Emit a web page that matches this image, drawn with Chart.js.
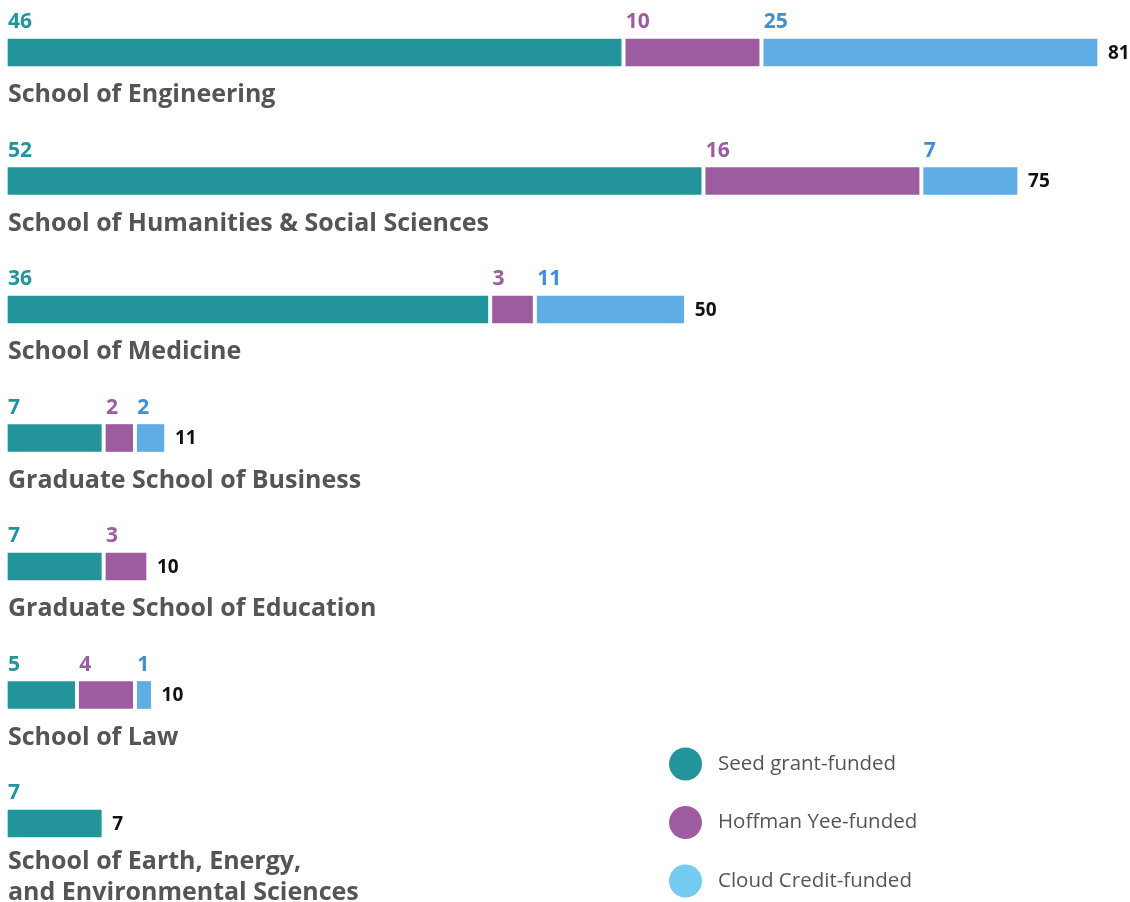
<!DOCTYPE html>
<html>
<head>
<meta charset="utf-8">
<script src="https://cdn.jsdelivr.net/npm/chart.js@4/dist/chart.umd.min.js"></script>
<style>
  html, body { margin: 0; padding: 0; background: #fff; }
  #wrap { width: 1130px; height: 902px; position: relative; }
</style>
</head>
<body>
<div id="wrap"><canvas id="projectsChart"></canvas></div>
<script>
var schools = [
  "School of Engineering",
  "School of Humanities & Social Sciences",
  "School of Medicine",
  "Graduate School of Business",
  "Graduate School of Education",
  "School of Law",
  ["School of Earth, Energy,", "and Environmental Sciences"]
];
var seedGrant = [46, 52, 36, 7, 7, 5, 7];
var hoffmanYee = [10, 16, 3, 2, 3, 4, 0];
var cloudCredit = [25, 7, 11, 2, 0, 1, 0];

var seriesNames = ["Seed grant-funded", "Hoffman Yee-funded", "Cloud Credit-funded"];
var barColors = ["#23959a", "#9d5ca0", "#60ace4"];
var labelColors = ["#23959a", "#9d5ca0", "#3f8fd1"];
var legendColors = ["#23959a", "#9d5ca0", "#74ccf0"];

var fontName = "'Open Sans', 'Noto Sans', sans-serif";
var series = [seedGrant, hoffmanYee, cloudCredit];
var gap = 0.35; // white space between segments, in value units (~4-5px)

// segments are drawn as floating bars so the gaps add to the length
function segments(d) {
  return series[d].map(function (v, i) {
    if (!v) return null;
    var start = 0;
    for (var k = 0; k < d; k++) {
      if (series[k][i] > 0) start += series[k][i] + gap;
    }
    return [start, start + v];
  });
}

// value labels, totals, school names and legend
var labelsPlugin = {
  id: "labelsPlugin",
  afterDatasetsDraw: function (chart) {
    var c = chart.ctx;
    c.save();
    schools.forEach(function (name, i) {
      var lastX = null, yMid = null, top = null, bottom = null;
      series.forEach(function (values, d) {
        var v = values[i];
        if (!v) return;
        var bar = chart.getDatasetMeta(d).data[i];
        var props = bar.getProps(["x", "y", "base", "height"], true);
        top = props.y - props.height / 2;
        bottom = props.y + props.height / 2;
        yMid = props.y;
        c.fillStyle = labelColors[d];
        c.font = "bold 21px " + fontName;
        c.textAlign = "left";
        c.textBaseline = "alphabetic";
        c.fillText(String(v), Math.min(props.base, props.x), top - 11);
        lastX = Math.max(props.base, props.x);
      });
      var total = seedGrant[i] + hoffmanYee[i] + cloudCredit[i];
      c.fillStyle = "#111";
      c.font = "bold 19px " + fontName;
      c.textBaseline = "middle";
      c.fillText(String(total), lastX + 11, yMid + 1);

      c.fillStyle = "#555";
      c.font = "bold 25px " + fontName;
      c.textBaseline = "alphabetic";
      var lines = Array.isArray(name) ? name : [name];
      var base = lines.length > 1 ? bottom + 32 : bottom + 36;
      lines.forEach(function (ln, j) {
        c.fillText(ln, 8, base + j * 31);
      });
    });

    // legend
    var legendY = [764, 822.5, 881];
    seriesNames.forEach(function (n, d) {
      c.beginPath();
      c.arc(685.5, legendY[d], 16.5, 0, Math.PI * 2);
      c.fillStyle = legendColors[d];
      c.fill();
      c.fillStyle = "#555";
      c.font = "20.5px " + fontName;
      c.textBaseline = "middle";
      c.fillText(n, 718, legendY[d]);
    });
    c.restore();
  }
};

var datasets = series.map(function (values, d) {
  return {
    label: seriesNames[d],
    data: segments(d),
    backgroundColor: barColors[d],
    borderWidth: 0,
    barThickness: 27,
    grouped: false,
    clip: false
  };
});

new Chart(document.getElementById("projectsChart"), {
  type: "bar",
  data: { labels: schools, datasets: datasets },
  plugins: [labelsPlugin],
  options: {
    indexAxis: "y",
    responsive: true,
    maintainAspectRatio: false,
    animation: false,
    layout: { padding: { left: 8, right: 19, top: 52.5, bottom: 78.5 } },
    scales: {
      x: { min: 0, max: 82.75, display: false },
      y: { display: false, offset: false, grid: { offset: false } }
    },
    plugins: {
      legend: { display: false },
      tooltip: { enabled: false }
    }
  }
});
</script>
</body>
</html>
